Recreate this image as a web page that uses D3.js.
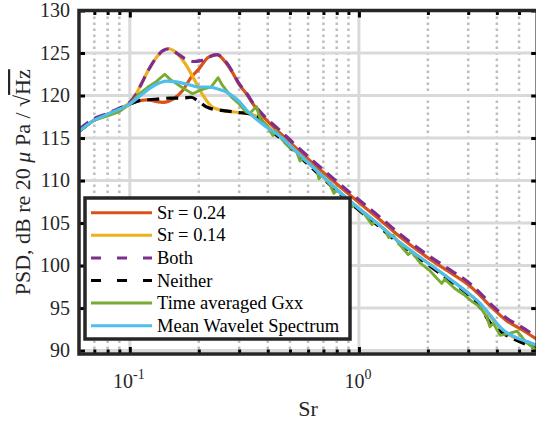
<!DOCTYPE html>
<html>
<head>
<meta charset="utf-8">
<script src="https://cdn.jsdelivr.net/npm/d3@7"></script>
<style>
body { margin: 0; background: #fff; }
svg { display: block; font-family: "Liberation Serif", "Times New Roman", serif; }
</style>
</head>
<body>
<div id="chart"></div>
<script>
var svgWidth = 536;
var svgHeight = 422;

// values: Sr and PSD (dB)
var sr24X = [0.06, 0.07, 0.08, 0.09, 0.1, 0.11, 0.12, 0.13, 0.14, 0.155, 0.17, 0.186, 0.2, 0.22, 0.24, 0.26, 0.282, 0.3, 0.323, 0.345, 0.362, 0.395, 0.452, 0.553, 0.676, 0.913, 1.235, 1.51, 1.98, 2.5, 3.05, 3.4, 3.86, 4.42, 5.04, 6.0];
var sr24Y = [115.8, 117.1, 117.8, 118.4, 119.0, 119.4, 119.5, 119.3, 119.2, 119.6, 120.6, 122.2, 123.1, 124.5, 124.8, 124.0, 122.6, 121.3, 120.2, 119.0, 118.3, 117.1, 115.6, 113.4, 111.3, 108.3, 105.4, 103.4, 101.0, 99.2, 97.6, 96.4, 94.9, 93.5, 92.6, 91.3];

var sr14X = [0.06, 0.07, 0.08, 0.09, 0.1, 0.105, 0.112, 0.12, 0.13, 0.14, 0.148, 0.16, 0.175, 0.192, 0.21, 0.23, 0.26, 0.3, 0.34, 0.37, 0.395, 0.452, 0.553, 0.676, 0.913, 1.235, 1.51, 1.98, 2.5, 3.05, 3.4, 3.73, 4.27, 4.88, 5.5, 6.0];
var sr14Y = [115.8, 117.1, 117.8, 118.4, 119.2, 119.9, 121.3, 122.9, 124.4, 125.3, 125.5, 125.0, 123.7, 121.8, 119.9, 118.6, 118.2, 118.0, 117.8, 117.3, 116.5, 115.2, 113.0, 110.8, 107.6, 104.7, 102.7, 100.4, 98.4, 96.6, 95.4, 94.0, 92.3, 91.4, 90.9, 90.6];

var bothX = [0.06, 0.07, 0.08, 0.09, 0.1, 0.105, 0.112, 0.12, 0.13, 0.14, 0.148, 0.16, 0.175, 0.19, 0.205, 0.22, 0.24, 0.26, 0.282, 0.3, 0.323, 0.345, 0.362, 0.395, 0.452, 0.553, 0.676, 0.913, 1.235, 1.51, 1.98, 2.5, 3.05, 3.4, 3.86, 4.42, 5.04, 6.0];
var bothY = [116.0, 117.3, 117.9, 118.5, 119.2, 119.9, 121.3, 122.9, 124.4, 125.3, 125.5, 125.0, 124.3, 124.0, 124.1, 124.5, 124.8, 124.1, 122.7, 121.4, 120.3, 119.1, 118.4, 117.3, 115.9, 113.7, 111.6, 108.6, 105.7, 103.7, 101.3, 99.5, 97.9, 96.7, 95.2, 93.8, 92.9, 91.6];

var neitherX = [0.06, 0.07, 0.08, 0.09, 0.1, 0.11, 0.12, 0.135, 0.15, 0.17, 0.185, 0.2, 0.215, 0.23, 0.26, 0.3, 0.34, 0.37, 0.395, 0.452, 0.553, 0.676, 0.913, 1.235, 1.51, 1.98, 2.5, 3.05, 3.4, 3.73, 4.27, 4.88, 5.5, 6.0];
var neitherY = [115.8, 117.1, 117.8, 118.4, 119.0, 119.4, 119.5, 119.6, 119.7, 119.7, 119.8, 119.3, 118.7, 118.4, 118.2, 118.0, 117.8, 117.3, 116.3, 115.0, 112.8, 110.6, 107.4, 104.5, 102.5, 100.2, 98.2, 96.4, 95.0, 93.3, 92.0, 91.2, 90.6, 90.2];

var gxxX = [0.06, 0.07, 0.08, 0.09, 0.1, 0.11, 0.12, 0.13, 0.142, 0.15, 0.168, 0.188, 0.206, 0.226, 0.243, 0.252, 0.278, 0.3, 0.32, 0.334, 0.357, 0.37, 0.396, 0.421, 0.434, 0.466, 0.5, 0.536, 0.553, 0.569, 0.611, 0.656, 0.669, 0.689, 0.747, 0.778, 0.801, 0.869, 0.932, 0.961, 1.06, 1.14, 1.17, 1.30, 1.35, 1.41, 1.51, 1.64, 1.70, 1.85, 2.04, 2.30, 2.37, 2.62, 2.9, 3.11, 3.38, 3.62, 3.73, 3.86, 4.13, 4.5, 4.9, 5.15, 5.4, 6.0];
var gxxY = [115.8, 117.1, 117.6, 118.1, 119.0, 120.2, 121.0, 121.6, 122.5, 121.9, 121.0, 120.2, 120.7, 121.0, 122.1, 121.3, 119.8, 119.0, 118.1, 117.9, 118.7, 117.3, 116.5, 115.3, 115.9, 114.7, 113.9, 113.3, 112.3, 112.6, 111.9, 111.2, 110.2, 110.7, 109.5, 108.5, 108.9, 108.0, 106.9, 107.1, 106.0, 104.8, 105.2, 104.2, 103.3, 103.6, 102.4, 101.3, 101.6, 100.3, 99.4, 97.9, 98.4, 97.3, 96.5, 95.8, 95.1, 93.9, 92.8, 93.2, 91.8, 92.0, 92.3, 91.6, 90.9, 90.0];

var waveletX = [0.06, 0.07, 0.08, 0.09, 0.1, 0.11, 0.12, 0.13, 0.145, 0.16, 0.18, 0.2, 0.22, 0.24, 0.26, 0.282, 0.3, 0.323, 0.35, 0.395, 0.452, 0.553, 0.676, 0.913, 1.235, 1.51, 1.98, 2.5, 3.05, 3.4, 3.73, 4.27, 4.88, 5.5, 6.0];
var waveletY = [115.8, 117.1, 117.8, 118.4, 119.0, 119.9, 120.7, 121.3, 121.7, 121.6, 121.3, 121.0, 121.0, 120.8, 120.5, 119.9, 119.3, 118.3, 117.4, 116.3, 115.2, 113.0, 110.8, 107.6, 104.7, 102.7, 100.4, 98.4, 96.6, 95.5, 94.2, 92.4, 91.5, 91.0, 90.6];

var legendLabels = ["Sr = 0.24", "Sr = 0.14", "Both", "Neither", "Time averaged Gxx", "Mean Wavelet Spectrum"];
var yTicks = [90, 95, 100, 105, 110, 115, 120, 125, 130];
var xMajor = [0.1, 1];
var xMinor = [0.07, 0.08, 0.09, 0.2, 0.3, 0.4, 0.5, 0.6, 0.7, 0.8, 0.9, 2, 3, 4, 5];

var series = [
	{ name: legendLabels[0], x: sr24X, y: sr24Y, color: "#D95319", dash: null, smooth: true },
	{ name: legendLabels[1], x: sr14X, y: sr14Y, color: "#EDB120", dash: null, smooth: true },
	{ name: legendLabels[2], x: bothX, y: bothY, color: "#7E2F8E", dash: "12,7", smooth: true },
	{ name: legendLabels[3], x: neitherX, y: neitherY, color: "#000000", dash: "12,7", smooth: true },
	{ name: legendLabels[4], x: gxxX, y: gxxY, color: "#77AC30", dash: null, smooth: false },
	{ name: legendLabels[5], x: waveletX, y: waveletY, color: "#4DBEEE", dash: null, smooth: true }
];

var plotLeft = 79, plotRight = 537.2, plotTop = 10.5, plotBottom = 354;

var x = d3.scaleLog().domain([0.06, 6]).range([plotLeft, plotRight]);
var y = d3.scaleLinear().domain([89.6, 130]).range([plotBottom, plotTop]);

var svg = d3.select("#chart")
	.append("svg")
	.attr("width", svgWidth)
	.attr("height", svgHeight);

svg.append("defs").append("clipPath")
	.attr("id", "plotclip")
	.append("rect")
	.attr("x", plotLeft).attr("y", plotTop)
	.attr("width", plotRight - plotLeft).attr("height", plotBottom - plotTop);

// grid
var grid = svg.append("g");
grid.selectAll(".minor")
	.data(xMinor)
	.enter()
	.append("line")
	.attr("x1", d => x(d)).attr("x2", d => x(d))
	.attr("y1", plotTop).attr("y2", plotBottom)
	.attr("stroke", "#bdbdbd")
	.attr("stroke-width", 2.5)
	.attr("stroke-dasharray", "2.5,3.5");

grid.selectAll(".majx")
	.data(xMajor)
	.enter()
	.append("line")
	.attr("x1", d => x(d)).attr("x2", d => x(d))
	.attr("y1", plotTop).attr("y2", plotBottom)
	.attr("stroke", "#d9d9d9")
	.attr("stroke-width", 3);

grid.selectAll(".majy")
	.data(yTicks)
	.enter()
	.append("line")
	.attr("x1", plotLeft).attr("x2", plotRight)
	.attr("y1", d => y(d)).attr("y2", d => y(d))
	.attr("stroke", "#d9d9d9")
	.attr("stroke-width", 3);

// curves
var lines = svg.append("g").attr("clip-path", "url(#plotclip)");
series.forEach(function(s) {
	var pts = s.x.map((v, i) => [v, s.y[i]]);
	var line = d3.line()
		.x(d => x(d[0]))
		.y(d => y(d[1]))
		.curve(s.smooth ? d3.curveMonotoneX : d3.curveLinear);
	lines.append("path")
		.datum(pts)
		.attr("d", line)
		.attr("fill", "none")
		.attr("stroke", s.color)
		.attr("stroke-width", s.smooth ? 3.2 : 2.8)
		.attr("stroke-linejoin", "round")
		.attr("stroke-dasharray", s.dash);
});

// axes with inward ticks
function styleAxis(g) {
	g.select(".domain").remove();
	g.selectAll(".tick line").attr("stroke", "#000").attr("stroke-width", 3);
	g.selectAll(".tick text").remove();
}

svg.append("g").attr("transform", `translate(0,${plotBottom})`)
	.call(d3.axisBottom(x).tickValues(xMajor).tickSize(-7)).call(styleAxis);
svg.append("g").attr("transform", `translate(0,${plotBottom})`)
	.call(d3.axisBottom(x).tickValues(xMinor).tickSize(-4.5)).call(styleAxis);
svg.append("g").attr("transform", `translate(0,${plotTop})`)
	.call(d3.axisTop(x).tickValues(xMajor).tickSize(-7)).call(styleAxis);
svg.append("g").attr("transform", `translate(0,${plotTop})`)
	.call(d3.axisTop(x).tickValues(xMinor).tickSize(-4.5)).call(styleAxis);
svg.append("g").attr("transform", `translate(${plotLeft},0)`)
	.call(d3.axisLeft(y).tickValues(yTicks).tickSize(-6)).call(styleAxis);
svg.append("g").attr("transform", `translate(${plotRight},0)`)
	.call(d3.axisRight(y).tickValues(yTicks).tickSize(-6)).call(styleAxis);

svg.append("rect")
	.attr("x", plotLeft).attr("y", plotTop)
	.attr("width", plotRight - plotLeft).attr("height", plotBottom - plotTop)
	.attr("fill", "none")
	.attr("stroke", "#262626")
	.attr("stroke-width", 3.5);

// tick labels
svg.selectAll(".ylab")
	.data(yTicks)
	.enter()
	.append("text")
	.attr("x", 70)
	.attr("y", d => y(d))
	.attr("dy", "0.33em")
	.attr("text-anchor", "end")
	.attr("font-size", 20)
	.attr("fill", "#262626")
	.text(d => d);

var xl = svg.selectAll(".xlab")
	.data(xMajor)
	.enter()
	.append("text")
	.attr("x", d => x(d) - 1)
	.attr("y", 388)
	.attr("text-anchor", "middle")
	.attr("font-size", 20)
	.attr("fill", "#262626");
xl.append("tspan").text("10");
xl.append("tspan")
	.attr("dy", -9)
	.attr("font-size", 14)
	.text(d => Math.round(Math.log10(d)));

svg.append("text")
	.attr("x", (plotLeft + plotRight) / 2)
	.attr("y", 416)
	.attr("text-anchor", "middle")
	.attr("font-size", 22)
	.attr("fill", "#262626")
	.text("Sr");

var yl = svg.append("text")
	.attr("transform", `translate(30,${(plotTop + plotBottom) / 2}) rotate(-90)`)
	.attr("text-anchor", "middle")
	.attr("font-size", 22)
	.attr("fill", "#262626");
yl.append("tspan").text("PSD, dB re 20 ");
yl.append("tspan").attr("font-style", "italic").text("\u03bc");
yl.append("tspan").text(" Pa / \u221a");
yl.append("tspan").attr("text-decoration", "overline").text("Hz");

// legend
var lg = svg.append("g");
lg.append("rect")
	.attr("x", 85).attr("y", 198)
	.attr("width", 265).attr("height", 141)
	.attr("fill", "#fff")
	.attr("stroke", "#262626")
	.attr("stroke-width", 3.5);

var rows = lg.selectAll(".row")
	.data(series)
	.enter()
	.append("g")
	.attr("transform", (d, i) => `translate(0,${212.7 + i * 22.6})`);

rows.append("line")
	.attr("x1", 91).attr("x2", 152)
	.attr("stroke", d => d.color)
	.attr("stroke-width", 3)
	.attr("stroke-dasharray", d => d.dash ? "10,16" : null);

rows.append("text")
	.attr("x", 157)
	.attr("dy", "0.33em")
	.attr("font-size", 18.5)
	.attr("fill", "#000")
	.text(d => d.name);
</script>
</body>
</html>
